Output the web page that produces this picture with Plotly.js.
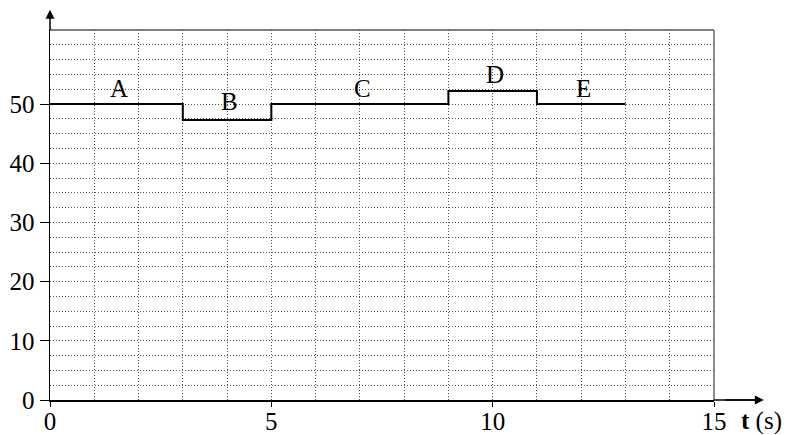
<!DOCTYPE html>
<html><head><meta charset="utf-8">
<script src="https://cdn.plot.ly/plotly-3.0.1.min.js"></script>
<style>body{margin:0;background:#fff}#c{width:796px;height:435px}</style>
</head><body><div id="c"></div>
<script>
const stepT = [0, 3, 5, 9, 11, 13];
const stepV = [50, 47.3, 50, 52.2, 50, 50];
const segLabels = ['A', 'B', 'C', 'D', 'E'];
const labelT = [1.55, 4.05, 7.05, 10.05, 12.05];
const labelV = [52.6, 50.4, 52.6, 55.0, 52.6];
const xTicks = [0, 5, 10, 15];
const yTicks = [0, 10, 20, 30, 40, 50];

const serif = 'Liberation Serif, Times New Roman, serif';

const trace = {x: stepT, y: stepV, type: 'scatter', mode: 'lines',
  line: {shape: 'hv', color: '#000', width: 2}, hoverinfo: 'skip'};

const annotations = segLabels.map((s, i) => ({
  x: labelT[i], y: labelV[i], xref: 'x', yref: 'y', text: s, showarrow: false,
  font: {family: serif, size: 25, color: '#000'}
}));
annotations.push({xref: 'paper', yref: 'paper', x: 1.038, y: -0.058, xanchor: 'left', yanchor: 'middle',
  text: '<b>t</b> (s)', showarrow: false, font: {family: serif, size: 25, color: '#000'}});
// axis arrows
annotations.push({xref: 'paper', yref: 'paper', x: 1.075, y: 0,
  showarrow: true, arrowhead: 2, arrowsize: 1.2, arrowwidth: 1.5, arrowcolor: '#000', text: '',
  ax: -40, ay: 0});
annotations.push({xref: 'paper', yref: 'paper', x: 0, y: 1.055, showarrow: true, arrowhead: 2,
  arrowsize: 1.2, arrowwidth: 1.5, arrowcolor: '#000', text: '', ax: 0, ay: 22});

const layout = {
  width: 796, height: 435,
  margin: {l: 50, r: 82, t: 30, b: 35},
  paper_bgcolor: '#fff', plot_bgcolor: '#fff',
  showlegend: false,
  xaxis: {range: [0, 15], tickvals: xTicks, ticktext: xTicks.map(String), showgrid: false,
    showline: true, linecolor: '#000', linewidth: 1.5, ticks: 'outside', ticklen: 5, tickcolor: '#000',
    zeroline: false, fixedrange: true, ticklabelstandoff: -7,
    tickfont: {family: serif, size: 25, color: '#000'},
    minor: {dtick: 1, showgrid: true, gridcolor: '#555', griddash: '1px,2px', gridwidth: 1}},
  yaxis: {range: [0, 62.5], tickvals: yTicks, ticktext: yTicks.map(String), showgrid: false,
    showline: true, linecolor: '#000', linewidth: 1.5, ticks: 'outside', ticklen: 9, tickcolor: '#000',
    zeroline: false, fixedrange: true,
    tickfont: {family: serif, size: 25, color: '#000'},
    minor: {dtick: 2.5, showgrid: true, gridcolor: '#555', griddash: '1px,2px', gridwidth: 1}},
  shapes: [
    {type: 'line', xref: 'paper', yref: 'paper', x0: 0, x1: 1, y0: 1, y1: 1, line: {color: '#555', width: 1.5}},
    {type: 'line', xref: 'paper', yref: 'paper', x0: 1, x1: 1, y0: 0, y1: 1, line: {color: '#444', width: 1.2}},
    {type: 'line', xref: 'paper', yref: 'paper', x0: 1, x1: 1.07, y0: 0, y1: 0, line: {color: '#000', width: 1.5}}
  ],
  annotations: annotations
};
Plotly.newPlot('c', [trace], layout, {staticPlot: true, displayModeBar: false});
</script></body></html>
